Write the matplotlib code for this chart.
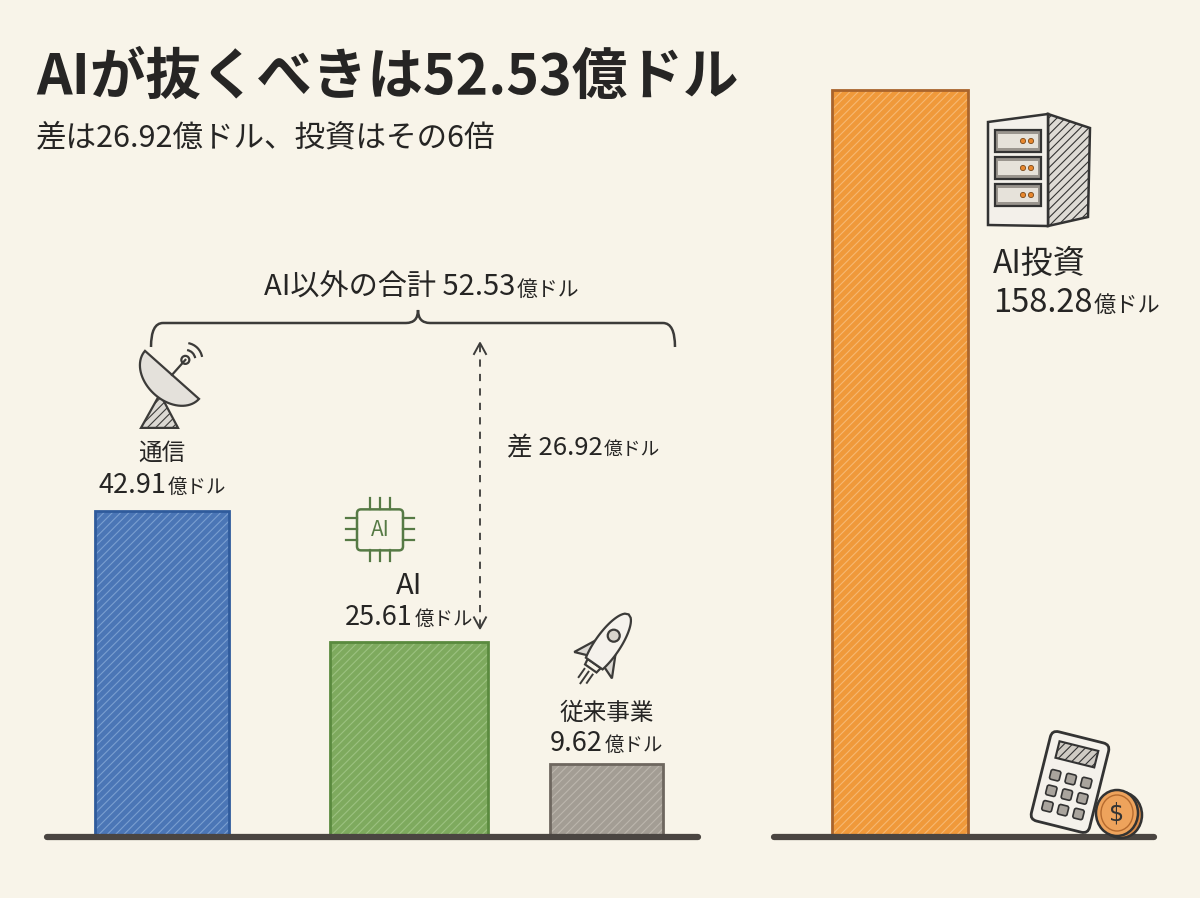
import matplotlib
matplotlib.use("Agg")
import numpy as np
import matplotlib.pyplot as plt
from matplotlib.patches import Polygon, Rectangle, Circle, Ellipse, Arc, FancyBboxPatch, PathPatch
from matplotlib.path import Path
from matplotlib.offsetbox import TextArea, HPacker, AnnotationBbox
from matplotlib.transforms import Affine2D

plt.rcParams['font.family'] = ['Noto Sans CJK JP', 'DejaVu Sans']
plt.rcParams['hatch.linewidth'] = 0.8

# ---- data ----
segments = ["通信", "AI", "従来事業"]
segment_values = [42.91, 25.61, 9.62]
invest_label = "AI投資"
invest_value = 158.28
others_total = 52.53
gap_value = 26.92
unit = "億ドル"
title = "AIが抜くべきは52.53億ドル"
subtitle = "差は26.92億ドル、投資はその6倍"
bracket_label = "AI以外の合計"
gap_label = "差"

# ---- style ----
W, H = 1200, 898
BG = "#f8f4e9"
INK = "#262524"
seg_colors = ["#4b76b6", "#7eaa5e", "#a39d94"]
seg_edges = ["#2f5b9c", "#5a8a3e", "#6e675f"]
seg_hatch = ["#7a9fd0", "#9cc281", "#bcb6ad"]
inv_color, inv_edge, inv_hatch = "#f0993a", "#a9642c", "#f6b873"
seg_x = [0, 1, 1.8]
seg_w = [0.54, 0.64, 0.46]
base_y, top_y = 837, 60

fig = plt.figure(figsize=(W / 100, H / 100), dpi=100, facecolor=BG)
ax = fig.add_axes([47 / W, 1 - base_y / H, 651 / W, (base_y - top_y) / H])
ax2 = fig.add_axes([774 / W, 1 - base_y / H, 380 / W, (base_y - top_y) / H])
ov = fig.add_axes([0, 0, 1, 1], zorder=5)
ov.set_xlim(0, W)
ov.set_ylim(H, 0)
ov.set_autoscale_on(False)
for a in (ax, ax2, ov):
    a.axis('off')
    a.patch.set_alpha(0)

# bars
ax.bar(seg_x, segment_values, seg_w, color=seg_colors, edgecolor=seg_hatch,
       hatch='////', linewidth=0, zorder=2)
ax.bar(seg_x, segment_values, seg_w, fill=False, edgecolor=seg_edges, linewidth=2, zorder=3)
ax2.bar([0], [invest_value], 0.55, color=inv_color, edgecolor=inv_hatch,
        hatch='////', linewidth=0, zorder=2)
ax2.bar([0], [invest_value], 0.55, fill=False, edgecolor=inv_edge, linewidth=2, zorder=3)

ax.set_xlim(-0.466, 2.17)
ax.set_ylim(0, (base_y - top_y) / 7.6)
ax2.set_xlim(-0.51, 1.028)
ax2.set_ylim(0, (base_y - top_y) / 4.72)
for a in (ax, ax2):
    a.axhline(0, color="#4a4541", lw=4.5, zorder=4, clip_on=False, solid_capstyle='round')


def money_box(target, xy, num, size, usize, dy=0, align=0.5, xycoords='data'):
    parts = [TextArea(num, textprops=dict(size=size, color=INK)),
             TextArea(unit, textprops=dict(size=usize, color=INK))]
    box = HPacker(children=parts, align='baseline', pad=0, sep=1)
    ab = AnnotationBbox(box, xy, xycoords=xycoords, xybox=(0, dy * 0.72),
                        boxcoords='offset points', box_alignment=(align, 0.5),
                        frameon=False, pad=0, annotation_clip=False)
    target.add_artist(ab)


def top_px(a, x, v):
    return ov.transData.inverted().transform(a.transData.transform((x, v)))


# labels above the left bars
name_dy = [58, 56, 50]
val_dy = [25, 25, 20]
for xi, v, name, nd, vd in zip(seg_x, segment_values, segments, name_dy, val_dy):
    size = 21 if name == "AI" else 17
    ax.annotate(name, (xi, v), xytext=(0, nd * 0.72), textcoords='offset points',
                ha='center', va='center', size=size, color=INK)
    money_box(ax, (xi, v), f"{v:.2f}", 19.5, 14, dy=vd)

tops = [top_px(ax, xi, v) for xi, v in zip(seg_x, segment_values)]
LW = 1.6

# satellite dish (reference bar top 535)
dy = tops[0][1] - 535
C = np.array([172, 399 + dy])
u = np.array([0.75, 0.667])
n = np.array([-0.667, 0.75])
t = np.linspace(0, np.pi, 40)
bowl = C + np.outer(36 * np.cos(t), u) + np.outer(26 * np.sin(t), n)
ov.add_patch(Polygon([(160, 418 + dy), (141, 452 + dy), (178, 452 + dy)],
                     closed=True, fc="#dcd9d3", ec="#3c3b39", lw=LW, hatch='////'))
ov.add_patch(Polygon(bowl, closed=True, fc="#e4e1db", ec="#3c3b39", lw=LW))
tip = C - 20 * n
ov.plot([C[0], tip[0]], [C[1], tip[1]], color="#3c3b39", lw=LW)
ov.add_patch(Circle(tip, 4, fc=BG, ec="#3c3b39", lw=LW))
for r in (10, 17):
    ov.add_patch(Arc(tip, 2 * r, 2 * r, theta1=-80, theta2=-10, color="#3c3b39", lw=LW))

# chip icon (reference bar top 605)
dy = tops[1][1] - 605
CH = "#567a45"
ov.add_patch(FancyBboxPatch((357, 472 + dy), 46, 41, boxstyle="round,pad=0,rounding_size=4",
                            fc="none", ec=CH, lw=1.8))
ov.text(380, 493 + dy, "AI", size=15, color=CH, ha='center', va='center')
for p in (370, 380, 390):
    ov.plot([p, p], [461 + dy, 472 + dy], color=CH, lw=1.6)
    ov.plot([p, p], [513 + dy, 524 + dy], color=CH, lw=1.6)
for p in (481, 492, 503):
    ov.plot([346, 357], [p + dy, p + dy], color=CH, lw=1.6)
    ov.plot([403, 414], [p + dy, p + dy], color=CH, lw=1.6)

# rocket (reference bar top 738)
dy = tops[2][1] - 738
cx, cy = 608, 618 + dy
ang = np.deg2rad(-55)
R = np.array([[np.cos(ang), -np.sin(ang)], [np.sin(ang), np.cos(ang)]])


def T(pts):
    return np.asarray(pts, dtype=float) @ R.T + [cx, cy]


xs = np.linspace(-24, 36, 40)
wd = 12.5 * np.sqrt(np.clip(1 - ((xs + 2) / 38) ** 2, 0, None))
body = np.vstack([np.column_stack([xs, wd]), np.column_stack([xs[::-1], -wd[::-1]])])
for s in (1, -1):
    ov.add_patch(Polygon(T([(-4, 12 * s), (-26, 23 * s), (-21, 10 * s)]), closed=True,
                         fc="#dcd9d3", ec="#3c3b39", lw=LW))
ov.add_patch(Polygon(T([(-24, -8), (-30, -7), (-30, 7), (-24, 8)]), closed=True,
                     fc=BG, ec="#3c3b39", lw=LW))
ov.add_patch(Polygon(T(body), closed=True, fc="#f5f2ec", ec="#3c3b39", lw=LW))
ov.add_patch(Circle(T([(10, 0)])[0], 6, fc="#d8d4cc", ec="#3c3b39", lw=LW))
for (y0, l) in ((-5, 10), (0, 14), (5, 10)):
    seg = T([(-34, y0), (-34 - l, y0)])
    ov.plot(seg[:, 0], seg[:, 1], color="#3c3b39", lw=1.4)

# bracket over the non-AI total
x0, x1, xc, yt, ye, yc, r = 151, 675, 418, 323, 347, 310, 12
verts = [(x0, ye), (x0, yt), (x0 + r, yt), (xc - r, yt), (xc, yt), (xc, yc),
         (xc, yt), (xc + r, yt), (x1 - r, yt), (x1, yt), (x1, ye)]
codes = [Path.MOVETO, Path.CURVE3, Path.CURVE3, Path.LINETO, Path.CURVE3, Path.CURVE3,
         Path.CURVE3, Path.CURVE3, Path.LINETO, Path.CURVE3, Path.CURVE3]
ov.add_patch(PathPatch(Path(verts, codes), fc='none', ec="#3c3b39", lw=1.8))
money_box(ov, (422, 288), f"{bracket_label} {others_total:.2f}", 21, 15)

# dashed gap arrow
yb = tops[1][1] - 15
ov.plot([480, 480], [345, yb], color="#3c3b39", lw=1.3, ls=(0, (4, 4)))
ov.plot([474, 480, 486], [354, 343, 354], color="#3c3b39", lw=1.4)
ov.plot([474, 480, 486], [yb - 10, yb + 1, yb - 10], color="#3c3b39", lw=1.4)
money_box(ov, (507, 448), f"{gap_label} {gap_value:.2f}", 18.5, 13.5, align=0)

# investment labels
ov.text(993, 264, invest_label, size=23, color=INK, va='center')
money_box(ov, (993, 303), f"{invest_value:.2f}", 23.5, 16, align=0)

# server icon
ov.add_patch(Polygon([(1048, 114), (1090, 128), (1088, 217), (1048, 226)], closed=True,
                     fc="#dedbd5", ec="#333", lw=1.8, hatch='////'))
ov.add_patch(Polygon([(988, 122), (1048, 114), (1048, 226), (988, 225)], closed=True,
                     fc="#f3f0ea", ec="#333", lw=1.8))
for yy in (130, 157, 184):
    ov.add_patch(Rectangle((995, yy), 46, 22, fc="#9a958e", ec="#333", lw=1.6))
    ov.add_patch(Rectangle((998, yy + 4), 40, 14, fc="#e6e2da", ec="none"))
    for dx in (1023, 1031):
        ov.add_patch(Circle((dx, yy + 11), 2.6, fc="#e8872e", ec="#7a4a1c", lw=0.6))

# calculator and coin
rot = Affine2D().rotate_deg_around(1070, 782, 14) + ov.transData
ov.add_patch(FancyBboxPatch((1040, 736), 60, 92, boxstyle="round,pad=0,rounding_size=7",
                            fc="#f4f1eb", ec="#333", lw=2, transform=rot))
ov.add_patch(Rectangle((1050, 745), 40, 17, fc="#cfcbc4", ec="#333", lw=1.5,
                       hatch='////', transform=rot))
for ry in (774, 790, 806):
    for rx in (1049, 1065, 1081):
        ov.add_patch(FancyBboxPatch((rx, ry), 10, 10, boxstyle="round,pad=0,rounding_size=2",
                                    fc="#a9a49d", ec="#333", lw=1.2, transform=rot))
ov.add_patch(Ellipse((1121, 815), 42, 46, fc="#d98a48", ec="#333", lw=1.8))
ov.add_patch(Ellipse((1117, 813), 42, 46, fc="#eea35c", ec="#333", lw=1.8))
ov.add_patch(Ellipse((1117, 813), 32, 36, fc="none", ec="#b56a2e", lw=1))
ov.text(1117, 814, "$", size=17, color="#333", ha='center', va='center', family='DejaVu Sans')

# title and subtitle
ov.text(36, 78, title, size=40, weight='bold', color=INK, va='center')
ov.text(36, 138, subtitle, size=22, color=INK, va='center')

fig.savefig("out.png", dpi=100, facecolor=BG)
